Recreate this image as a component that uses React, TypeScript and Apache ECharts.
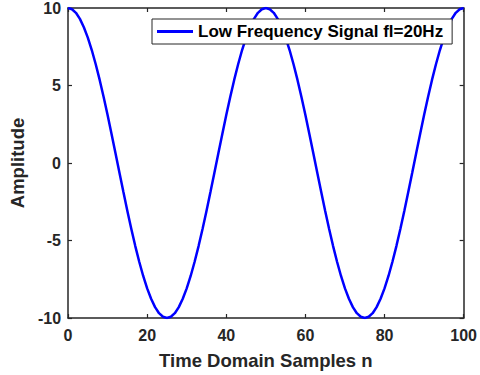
import React, { useEffect, useRef } from "react";
import * as echarts from "echarts";

const samples: number[] = [
  0, 1, 2, 3, 4, 5, 6, 7, 8, 9, 10, 11, 12, 13, 14, 15, 16, 17, 18, 19, 20,
  21, 22, 23, 24, 25, 26, 27, 28, 29, 30, 31, 32, 33, 34, 35, 36, 37, 38, 39, 40,
  41, 42, 43, 44, 45, 46, 47, 48, 49, 50, 51, 52, 53, 54, 55, 56, 57, 58, 59, 60,
  61, 62, 63, 64, 65, 66, 67, 68, 69, 70, 71, 72, 73, 74, 75, 76, 77, 78, 79, 80,
  81, 82, 83, 84, 85, 86, 87, 88, 89, 90, 91, 92, 93, 94, 95, 96, 97, 98, 99, 100,
];

const amplitude: number[] = [
  10, 9.92, 9.69, 9.3, 8.76, 8.09, 7.29, 6.37, 5.36, 4.26, 3.09, 1.87, 0.63,
  -0.63, -1.87, -3.09, -4.26, -5.36, -6.37, -7.29, -8.09, -8.76, -9.3, -9.69, -9.92,
  -10, -9.92, -9.69, -9.3, -8.76, -8.09, -7.29, -6.37, -5.36, -4.26, -3.09, -1.87, -0.63,
  0.63, 1.87, 3.09, 4.26, 5.36, 6.37, 7.29, 8.09, 8.76, 9.3, 9.69, 9.92,
  10, 9.92, 9.69, 9.3, 8.76, 8.09, 7.29, 6.37, 5.36, 4.26, 3.09, 1.87, 0.63,
  -0.63, -1.87, -3.09, -4.26, -5.36, -6.37, -7.29, -8.09, -8.76, -9.3, -9.69, -9.92,
  -10, -9.92, -9.69, -9.3, -8.76, -8.09, -7.29, -6.37, -5.36, -4.26, -3.09, -1.87, -0.63,
  0.63, 1.87, 3.09, 4.26, 5.36, 6.37, 7.29, 8.09, 8.76, 9.3, 9.69, 9.92, 10,
];

const seriesName = "Low Frequency Signal fl=20Hz";
const xTitle = "Time Domain Samples n";
const yTitle = "Amplitude";

export default function App() {
  const ref = useRef<HTMLDivElement>(null);
  useEffect(() => {
    if (!ref.current) return;
    const chart = echarts.init(ref.current, null, { renderer: "svg" });
    const font = "Arial, 'Liberation Sans', Helvetica, sans-serif";
    const axisColor = "#262626";
    const baseAxis = {
      axisLine: { show: true, onZero: false, lineStyle: { color: axisColor, width: 1.5 } },
      axisTick: { show: true, inside: true, length: 4, lineStyle: { color: axisColor, width: 1.2 } },
      splitLine: { show: false },
    };
    chart.setOption({
      animation: false,
      backgroundColor: "#ffffff",
      textStyle: { fontFamily: font },
      grid: { left: 57, right: 16, top: 8, bottom: 56.5, containLabel: false },
      legend: {
        show: true,
        left: 152,
        top: 19,
        padding: [4, 9, 4, 5],
        itemGap: 0,
        itemWidth: 36,
        itemHeight: 3,
        backgroundColor: "#ffffff",
        borderColor: "#262626",
        borderWidth: 1,
        borderRadius: 0,
        textStyle: { fontFamily: font, fontWeight: "bold", fontSize: 17, color: "#000000" },
        data: [{ name: seriesName, icon: "rect" }],
      },
      xAxis: [
        {
          ...baseAxis,
          type: "value",
          min: 0,
          max: 100,
          interval: 20,
          name: xTitle,
          nameLocation: "middle",
          nameGap: 33,
          nameTextStyle: { fontFamily: font, fontWeight: "bold", fontSize: 18.5, color: "#262626" },
          axisLabel: { fontFamily: font, fontWeight: "bold", fontSize: 16, color: "#262626", margin: 9 },
        },
        {
          ...baseAxis,
          type: "value",
          position: "top",
          min: 0,
          max: 100,
          interval: 20,
          axisLabel: { show: false },
        },
      ],
      yAxis: [
        {
          ...baseAxis,
          type: "value",
          min: -10,
          max: 10,
          interval: 5,
          name: yTitle,
          nameLocation: "middle",
          nameGap: 35,
          nameTextStyle: { fontFamily: font, fontWeight: "bold", fontSize: 18.5, color: "#262626" },
          axisLabel: { fontFamily: font, fontWeight: "bold", fontSize: 16, color: "#262626", margin: 7 },
        },
        {
          ...baseAxis,
          type: "value",
          position: "right",
          min: -10,
          max: 10,
          interval: 5,
          axisLabel: { show: false },
        },
      ],
      series: [
        {
          name: seriesName,
          type: "line",
          xAxisIndex: 0,
          yAxisIndex: 0,
          data: samples.map((n, i) => [n, amplitude[i]]),
          showSymbol: false,
          symbol: "none",
          smooth: false,
          lineStyle: { color: "#0000ff", width: 2.5 },
          itemStyle: { color: "#0000ff" },
          z: 3,
        },
      ],
    });
    return () => chart.dispose();
  }, []);
  return (
    <div
      ref={ref}
      style={{ position: "absolute", left: 0, top: 0, width: 480, height: 375 }}
    />
  );
}
